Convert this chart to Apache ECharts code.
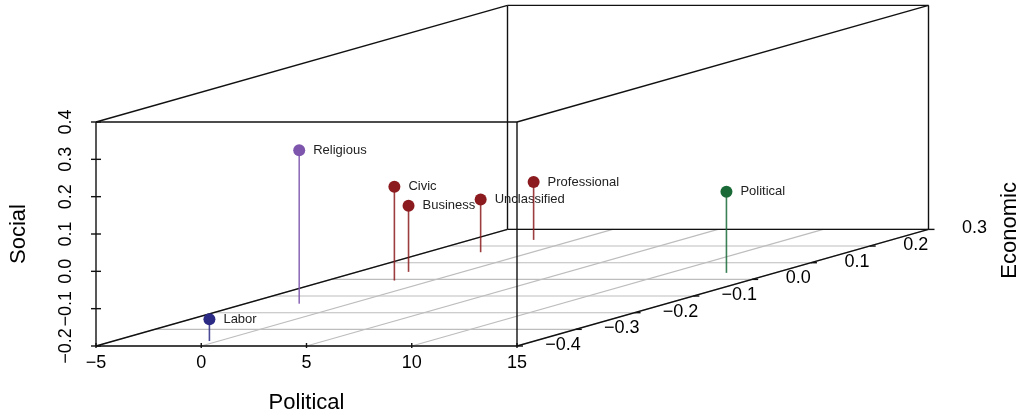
<!DOCTYPE html>
<html><head><meta charset="utf-8">
<script src="https://cdn.jsdelivr.net/npm/echarts@6/dist/echarts.min.js"></script>
<style>html,body{margin:0;padding:0;background:#fff}#c{width:1021px;height:416px}</style>
</head><body><div id="c"></div>
<script>
// ---- data ----
const categories = ['Labor','Religious','Civic','Business','Unclassified','Professional','Political'];
const political  = [-0.45, -2.44, -1.80, -2.58, -2.45, -2.00, 12.69];
const economic   = [-0.37, -0.146, -0.007, 0.045, 0.163, 0.237, 0.039];
const social     = [-0.142, 0.211, 0.051, -0.023, -0.059, -0.045, 0.017];
const politicalTicks = [-5, 0, 5, 10, 15];
const socialTicks    = [-0.2, -0.1, 0.0, 0.1, 0.2, 0.3, 0.4];
const economicTicks  = [-0.4, -0.3, -0.2, -0.1, 0.0, 0.1, 0.2, 0.3];

// ---- style ----
const pointColors = {
  Labor: '#2b2b86', Religious: '#7e55ad', Civic: '#8b1b1f', Business: '#8b1b1f',
  Unclassified: '#8b1b1f', Professional: '#8b1b1f', Political: '#1a6a38'
};
const FONT = '"Liberation Sans", Arial, Helvetica, sans-serif';
const DEPTH = [411.5, -116.6];   // pixel vector of the full Economic depth
const P_MIN = politicalTicks[0], P_MAX = politicalTicks[politicalTicks.length - 1];
const S_MIN = socialTicks[0], S_MAX = socialTicks[socialTicks.length - 1];
const E_MIN = economicTicks[0], E_MAX = economicTicks[economicTicks.length - 1];
const minus = s => s.replace('-', '\u2212');

function proj(api, p, s, e) {
  const c = api.coord([p, s]);
  const t = (e - E_MIN) / (E_MAX - E_MIN);
  return [c[0] + t * DEPTH[0], c[1] + t * DEPTH[1]];
}
function seg(a, b, stroke, w) {
  return { type: 'line', silent: true, shape: { x1: a[0], y1: a[1], x2: b[0], y2: b[1] },
           style: { stroke: stroke, lineWidth: w } };
}

function renderFrame(params, api) {
  const ch = [];
  const GRAY = '#bdbdbd', BLACK = '#111', LW = 1.4;
  // floor grid
  economicTicks.forEach(e => ch.push(seg(proj(api, P_MIN, S_MIN, e), proj(api, P_MAX, S_MIN, e), GRAY, 1.1)));
  politicalTicks.forEach(p => ch.push(seg(proj(api, p, S_MIN, E_MIN), proj(api, p, S_MIN, E_MAX), GRAY, 1.1)));
  // back face
  const corners = [[P_MIN, S_MIN], [P_MAX, S_MIN], [P_MAX, S_MAX], [P_MIN, S_MAX]];
  for (let k = 0; k < 4; k++) {
    const a = corners[k], b = corners[(k + 1) % 4];
    ch.push(seg(proj(api, a[0], a[1], E_MAX), proj(api, b[0], b[1], E_MAX), BLACK, LW));
  }
  // depth edges
  corners.forEach(c => ch.push(seg(proj(api, c[0], c[1], E_MIN), proj(api, c[0], c[1], E_MAX), BLACK, LW)));
  // front face
  for (let k = 0; k < 4; k++) {
    const a = corners[k], b = corners[(k + 1) % 4];
    ch.push(seg(proj(api, a[0], a[1], E_MIN), proj(api, b[0], b[1], E_MIN), BLACK, LW));
  }
  // social ticks (cross the axis)
  socialTicks.forEach(s => {
    const c = proj(api, P_MIN, s, E_MIN);
    ch.push(seg([c[0] - 5, c[1]], [c[0] + 5, c[1]], BLACK, LW));
  });
  // political ticks
  politicalTicks.forEach(p => {
    const c = proj(api, p, S_MIN, E_MIN);
    ch.push(seg([c[0], c[1] + 2], [c[0], c[1] - 3], BLACK, LW));
  });
  // economic ticks and labels
  economicTicks.forEach(e => {
    const c = proj(api, P_MAX, S_MIN, e);
    ch.push(seg(c, [c[0] + 6, c[1]], BLACK, LW));
    ch.push({ type: 'text', silent: true, style: {
      text: minus(e.toFixed(1)), x: c[0] + 46, y: c[1] - 1,
      textAlign: 'center', textVerticalAlign: 'middle', font: '18px ' + FONT, fill: '#000' } });
  });
  // Economic axis title
  const br = proj(api, P_MAX, S_MIN, E_MAX);
  ch.push({ type: 'text', silent: true, x: br[0] + 81, y: br[1] + 1, rotation: Math.PI / 2,
    style: { text: 'Economic', x: 0, y: 0, textAlign: 'center', textVerticalAlign: 'middle',
             font: '22px ' + FONT, fill: '#000' } });
  return { type: 'group', children: ch };
}

function renderPoint(params, api) {
  const i = params.dataIndex;
  const p = api.value(0), s = api.value(1), e = api.value(2);
  const top = proj(api, p, s, e), bot = proj(api, p, S_MIN, e);
  const col = pointColors[categories[i]];
  return { type: 'group', children: [
    { type: 'line', shape: { x1: bot[0], y1: bot[1], x2: top[0], y2: top[1] },
      style: { stroke: col, opacity: 0.85, lineWidth: 1.6 } },
    { type: 'circle', shape: { cx: top[0], cy: top[1], r: 6 }, style: { fill: col } },
    { type: 'text', style: { text: categories[i], x: top[0] + 14, y: top[1],
      textAlign: 'left', textVerticalAlign: 'middle', font: '13px ' + FONT, fill: '#222' } }
  ] };
}

const chart = echarts.init(document.getElementById('c'), null, { renderer: 'canvas' });
chart.setOption({
  animation: false,
  backgroundColor: '#fff',
  grid: { left: 96, top: 122, width: 421, height: 224, show: false,
          containLabel: false, outerBoundsMode: 'none' },
  xAxis: {
    type: 'value', min: P_MIN, max: P_MAX, interval: 5,
    name: 'Political', nameLocation: 'middle', nameGap: 46,
    nameTextStyle: { fontSize: 22, fontFamily: FONT, color: '#000' },
    axisLine: { show: false }, axisTick: { show: false }, splitLine: { show: false },
    axisLabel: { fontSize: 18, fontFamily: FONT, color: '#000', margin: 8,
      formatter: v => minus(String(Math.round(v))) }
  },
  yAxis: {
    type: 'value', min: S_MIN, max: S_MAX, interval: 0.1,
    name: 'Social', nameLocation: 'middle', nameGap: 66,
    nameTextStyle: { fontSize: 22, fontFamily: FONT, color: '#000' },
    axisLine: { show: false }, axisTick: { show: false }, splitLine: { show: false },
    axisLabel: { fontSize: 18, fontFamily: FONT, color: '#000', margin: 21, rotate: 90,
      formatter: v => minus((Math.round(v * 10) / 10).toFixed(1)) }
  },
  series: [
    { type: 'custom', coordinateSystem: 'cartesian2d', z: 1, silent: true,
      renderItem: renderFrame, data: [[0, 0]], encode: { x: 0, y: 1 } },
    { type: 'custom', coordinateSystem: 'cartesian2d', z: 2, silent: true,
      renderItem: renderPoint,
      data: categories.map((c, i) => [political[i], social[i], economic[i]]),
      encode: { x: 0, y: 1 } }
  ]
});
</script>
</body></html>
